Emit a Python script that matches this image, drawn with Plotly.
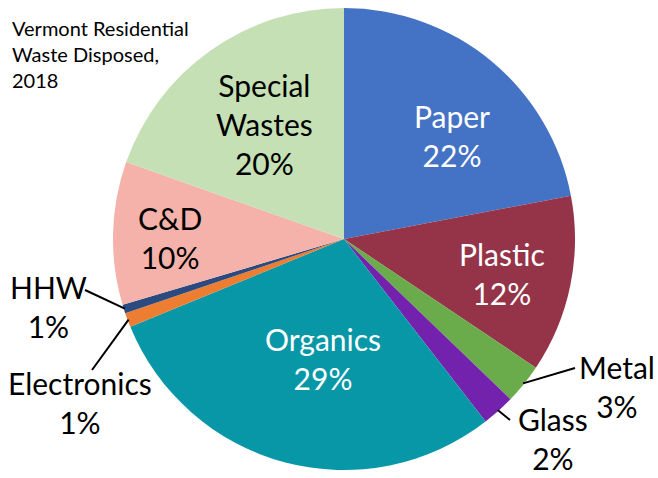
import math
import plotly.graph_objects as go

# Vermont residential waste disposed, 2018 (share of total, %)
categories = ["Paper", "Plastic", "Metal", "Glass", "Organics",
              "Electronics", "HHW", "C&D", "Special Wastes"]
shares = [22.0, 12.4, 2.8, 2.3, 29.3, 1.0, 0.6, 10.0, 19.6]
colors = ["#4472C4", "#953449", "#6AAB4C", "#7322AE", "#0797A6",
          "#ED7D31", "#2B4A80", "#F5B2AA", "#C5E0B4"]
title_text = "Vermont Residential<br>Waste Disposed,<br>2018"

W, H = 658, 478
CX, CY, R = 344, 239, 231  # pie centre / radius in px

# label block centres in px, text colour, optional leader end point
label_pos = {
    "Paper": (452, 135, "white", None),
    "Plastic": (502, 273, "white", None),
    "Metal": (617, 386, "black", (575, 368)),
    "Glass": (553, 438, "black", (510, 420)),
    "Organics": (323, 358, "white", None),
    "Electronics": (80, 402, "black", (92, 370)),
    "HHW": (48, 306, "black", (85, 290)),
    "C&D": (170, 237, "black", None),
    "Special Wastes": (264, 124, "black", None),
}

FONT = "Lato, Carlito, Calibri, sans-serif"


def px(x, y):
    return x / W, 1 - y / H


fig = go.Figure(go.Pie(
    labels=categories, values=shares, sort=False,
    direction="clockwise", rotation=0,
    marker=dict(colors=colors, line=dict(width=0)),
    textinfo="none", hoverinfo="label+percent",
    domain=dict(x=[(CX - R) / W, (CX + R) / W],
                y=[(H - CY - R) / H, (H - CY + R) / H]),
    showlegend=False,
))

total = sum(shares)
cum = 0.0
for name, v in zip(categories, shares):
    mid = (cum + v / 2) / total * 2 * math.pi
    cum += v
    lx, ly, col, lead = label_pos[name]
    txt = f"{name.replace(' ', '<br>')}<br>{round(v / total * 100)}%"
    ax, ay = px(lx, ly)
    fig.add_annotation(x=ax, y=ay, xref="paper", yref="paper", text=txt,
                       showarrow=False, xanchor="center", yanchor="middle",
                       borderpad=0,
                       font=dict(family=FONT, size=30, color=col))
    if lead:
        sx, sy = px(CX + (R - 1) * math.sin(mid), CY - (R - 1) * math.cos(mid))
        ex, ey = px(*lead)
        fig.add_shape(type="line", xref="paper", yref="paper",
                      x0=sx, y0=sy, x1=ex, y1=ey,
                      line=dict(color="black", width=2))

tx, ty = px(10, 54)
fig.add_annotation(x=tx, y=ty, xref="paper", yref="paper", text=title_text,
                   showarrow=False, xanchor="left", yanchor="middle", align="left",
                   font=dict(family=FONT, size=20, color="black"))

fig.update_layout(width=W, height=H, margin=dict(l=0, r=0, t=0, b=0),
                  paper_bgcolor="white", plot_bgcolor="white")

# drop the browser's default body margin so the figure fills the window
fig.write_html("out.html", config={"displayModeBar": False},
               post_script="document.body.style.margin='0';")
